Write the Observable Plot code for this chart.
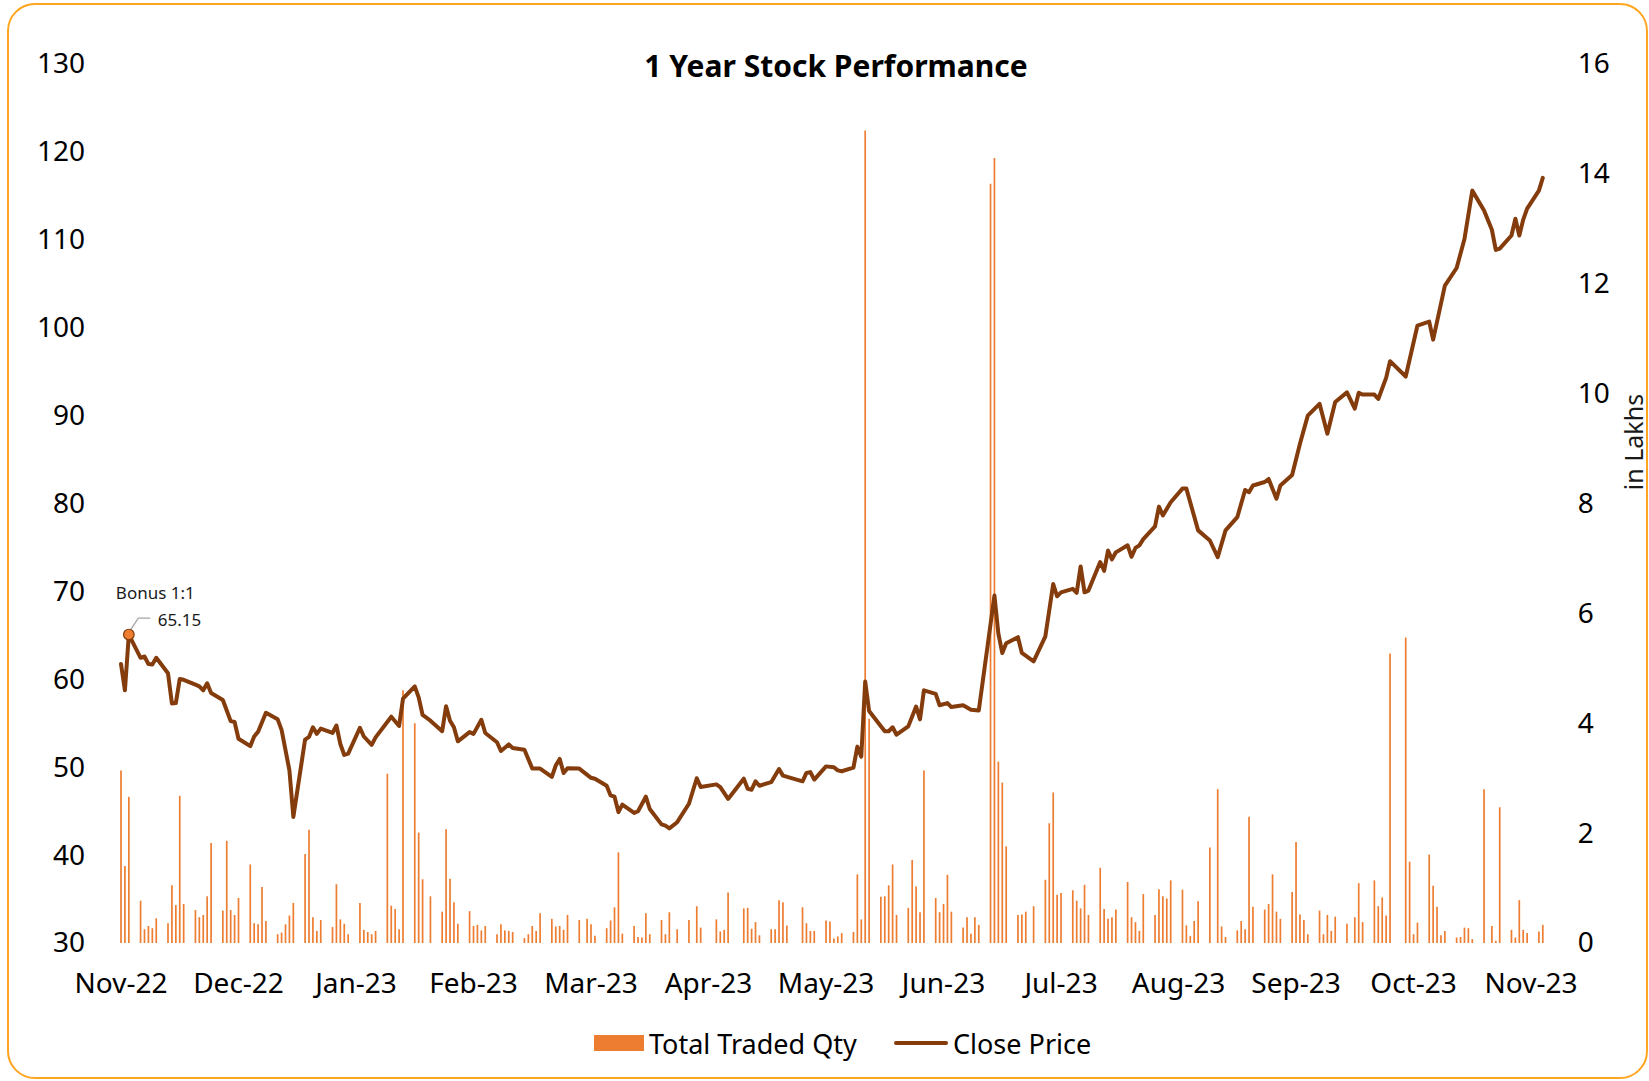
<!DOCTYPE html>
<html>
<head>
<meta charset="utf-8">
<script src="https://cdn.jsdelivr.net/npm/d3@7"></script>
<script src="https://cdn.jsdelivr.net/npm/@observablehq/plot@0.6"></script>
<style>
  html, body { margin: 0; padding: 0; background: #fff; }
  #wrap { position: relative; width: 1649px; height: 1081px; overflow: hidden; font-family: "Noto Sans", "Open Sans", sans-serif; color: #000; }
  #frame { position: absolute; left: 7px; top: 3px; width: 1641px; height: 1076px; border: 2px solid #FFA51F; border-radius: 28px; box-sizing: border-box; pointer-events: none; }
  #chart { position: absolute; left: 0; top: 0; }
  #title { position: absolute; left: 836px; top: 65px; transform: translate(-50%, -50%); font-weight: 700; font-size: 30px; white-space: nowrap; }
  #ylab2 { position: absolute; left: 1633px; top: 442px; transform: translate(-50%, -50%) rotate(-90deg); font-size: 25px; white-space: nowrap; color: #1a1a1a; }
  .leg { position: absolute; font-size: 27px; white-space: nowrap; transform: translateY(-50%); }
  .sw { position: absolute; }
</style>
</head>
<body>
<div id="wrap">
  <div id="frame"></div>
  <div id="chart"></div>
  <div id="title"></div>
  <div id="ylab2"></div>
  <div id="legend"></div>
</div>
<script>
// ---------- data ----------
const titleText = "1 Year Stock Performance";
const rightAxisLabel = "in Lakhs";
const startDate = "2022-11-02";            // day offset 0
const seriesNames = ["Total Traded Qty", "Close Price"];
const tickLabels = ["Nov-22","Dec-22","Jan-23","Feb-23","Mar-23","Apr-23","May-23","Jun-23","Jul-23","Aug-23","Sep-23","Oct-23","Nov-23"];
const tickDay = [0,30,60,90,120,150,180,210,240,270,300,330,360];
const priceTicks = [30,40,50,60,70,80,90,100,110,120,130];
const qtyTicks = [0,2,4,6,8,10,12,14,16];

// Close price (Rs), at trading-day offsets
const priceDay = [0,1,2,5,6,7,8,9,12,13,
14,15,16,19,20,21,22,23,26,27,
28,29,30,33,34,35,37,40,41,43,
44,47,48,49,50,51,54,55,56,57,
58,61,62,64,65,69,71,72,75,76,
77,79,82,83,84,85,86,89,90,92,
93,96,97,99,100,103,105,107,110,111,
112,113,114,117,120,121,124,125,126,127,
128,131,132,134,135,138,139,140,142,145,
147,148,152,153,155,159,160,161,162,163,
166,168,169,174,175,176,177,180,182,183,
184,187,188,189,190,191,195,196,197,198,
201,203,204,205,208,209,211,212,215,217,
219,223,224,225,226,229,230,233,236,238,
239,240,243,244,245,246,247,250,251,252,
253,254,257,258,259,260,261,264,265,266,
268,271,272,275,278,280,282,285,287,288,
289,292,293,295,296,299,301,303,306,308,
310,313,315,316,317,320,321,323,324,328,
331,334,335,338,341,343,345,348,350,351,
352,355,356,357,358,359,362,363];
const closePrice = [61.8,58.8,65.15,62.5,62.65,61.8,61.75,62.5,60.75,57.3,
57.35,60.1,60.0,59.45,59.25,58.8,59.6,58.5,57.7,56.5,
55.3,55.2,53.3,52.45,53.55,54.1,56.25,55.5,54.3,49.7,
44.4,53.2,53.5,54.6,53.85,54.45,53.95,54.8,52.7,51.45,
51.6,54.55,53.55,52.6,53.45,55.8,54.75,57.85,59.25,58.0,
56.0,55.35,54.15,57.0,55.35,54.6,53.0,54.05,53.85,55.45,
53.95,52.9,51.9,52.65,52.25,52.05,49.9,49.9,48.95,50.25,
51.0,49.4,49.95,49.9,48.85,48.75,47.95,46.85,46.7,44.95,
45.8,44.85,45.05,46.7,45.3,43.55,43.4,43.1,43.8,45.9,
48.8,47.8,48.1,47.8,46.45,48.75,47.6,47.5,48.45,47.95,
48.35,49.85,49.1,48.45,49.4,49.5,48.65,50.15,50.05,49.7,
49.6,50.0,52.4,51.25,59.8,56.45,54.15,54.15,54.6,53.75,
54.7,56.95,55.5,58.8,58.4,57.1,57.35,56.9,57.1,56.6,
56.5,69.6,65.25,63.05,64.15,64.85,63.05,62.1,64.95,70.9,
69.5,69.95,70.35,69.9,72.9,69.95,70.15,73.4,72.4,74.7,
73.7,74.5,75.3,74.0,75.0,75.3,76.0,77.45,79.7,78.7,
80.2,81.75,81.75,77.0,75.85,73.95,77.0,78.5,81.6,81.35,
82.1,82.5,82.85,80.6,82.1,83.3,86.85,90.05,91.4,88.0,
91.6,92.7,90.85,92.65,92.45,92.45,91.95,94.35,96.25,94.5,
100.3,100.75,98.7,104.85,106.85,110.15,115.65,113.4,111.2,108.9,
109.05,110.55,112.45,110.55,112.35,113.6,115.65,117.1];

// Total traded quantity (lakhs), at trading-day offsets
const volDay = [0,1,2,5,6,7,8,9,12,13,
14,15,16,19,20,21,22,23,26,27,
28,29,30,33,34,35,36,37,40,41,
42,43,44,47,48,49,50,51,54,55,
56,57,58,61,62,63,64,65,68,69,
70,71,72,75,76,77,79,82,83,84,
85,86,89,90,91,92,93,96,97,98,
99,100,103,104,105,106,107,110,111,112,
113,114,117,119,120,121,124,125,126,127,
128,131,132,133,134,135,138,139,140,142,
145,147,148,152,153,154,155,159,160,161,
162,163,166,167,168,169,170,174,175,176,
177,180,181,182,183,184,187,188,189,190,
191,194,195,196,197,198,201,202,203,204,
205,208,209,210,211,212,215,216,217,218,
219,222,223,224,225,226,229,230,231,233,
236,237,238,239,240,243,244,245,246,247,
250,251,252,253,254,257,258,259,260,261,
264,265,266,267,268,271,272,273,274,275,
278,280,281,282,285,286,287,288,289,292,
293,294,295,296,299,300,301,302,303,306,
307,308,309,310,313,315,316,317,320,321,
322,323,324,328,329,330,331,334,335,336,
337,338,341,342,343,344,345,348,350,351,
352,355,356,357,358,359,362,363];
const volume = [3.14,1.40,2.66,0.77,0.25,0.31,0.27,0.45,0.36,1.05,
0.69,2.68,0.71,0.60,0.47,0.51,0.85,1.82,0.59,1.86,
0.60,0.51,0.82,1.43,0.36,0.34,1.02,0.40,0.16,0.19,
0.34,0.50,0.73,1.62,2.06,0.47,0.22,0.42,0.29,1.07,
0.43,0.35,0.16,0.73,0.24,0.20,0.16,0.22,3.08,0.68,
0.62,0.25,4.60,4.00,2.01,1.16,0.85,0.57,2.07,1.17,
0.74,0.35,0.58,0.31,0.33,0.23,0.31,0.16,0.34,0.23,
0.22,0.20,0.09,0.16,0.31,0.22,0.54,0.44,0.30,0.31,
0.24,0.51,0.42,0.44,0.34,0.13,0.27,0.41,0.65,1.65,
0.17,0.31,0.11,0.10,0.54,0.16,0.42,0.16,0.56,0.25,
0.42,0.67,0.28,0.43,0.21,0.24,0.92,0.63,0.64,0.26,
0.38,0.14,0.25,0.25,0.78,0.74,0.32,0.65,0.36,0.22,
0.22,0.41,0.39,0.08,0.12,0.18,0.20,1.25,0.43,14.79,
4.08,0.84,0.85,1.05,1.43,0.51,0.64,1.51,1.03,0.56,
3.14,0.82,0.56,0.71,1.24,0.57,0.28,0.47,0.17,0.47,
0.33,13.82,14.29,3.30,2.92,1.76,0.51,0.52,0.57,0.67,
1.15,2.18,2.74,0.88,0.91,0.96,0.77,0.63,1.06,0.51,
1.37,0.62,0.44,0.47,0.61,1.11,0.47,0.38,0.22,0.89,
0.51,0.98,0.85,0.81,1.14,0.97,0.32,0.13,0.40,0.76,
1.74,2.80,0.30,0.11,0.23,0.40,0.25,2.30,0.66,0.61,
0.71,1.25,0.57,0.44,0.93,1.84,0.52,0.42,0.16,0.59,
0.16,0.51,0.22,0.48,0.35,0.47,1.09,0.38,1.14,0.67,
0.83,0.50,5.27,5.56,1.48,0.16,0.37,1.61,1.04,0.66,
0.14,0.22,0.10,0.11,0.28,0.27,0.07,2.80,0.31,0.04,
2.47,0.24,0.10,0.78,0.24,0.18,0.21,0.33];

// Annotation
const bonusDay = 2;
const bonusPrice = 65.15;
const bonusLabel = "Bonus 1:1";
const bonusValueLabel = "65.15";

// ---------- build ----------
const COLORS = { bar: "#ED7D31", line: "#843C0C", text: "#000000", leader: "#A6A6A6" };
const FONT = '"Noto Sans", "Open Sans", sans-serif';
const t0 = Date.parse(startDate + "T00:00:00Z");
const dayDate = d => new Date(t0 + d * 864e5);

const priceRows = priceDay.map((d, i) => ({ date: dayDate(d), price: closePrice[i] }));
const volRows = volDay.map((d, i) => ({ date: dayDate(d), qty: volume[i] }));

// secondary axis: 0..16 lakhs mapped onto 30..130 of the price scale
const pMin = priceTicks[0], pMax = priceTicks[priceTicks.length - 1];
const qMax = qtyTicks[qtyTicks.length - 1];
const qtyToPrice = q => pMin + q * (pMax - pMin) / qMax;

const tickDates = tickDay.map(dayDate);
const tickLabelOf = new Map(tickDates.map((d, i) => [+d, tickLabels[i]]));
const qtyLabelOf = new Map(qtyTicks.map(q => [qtyToPrice(q), String(q)]));

const bonusDate = dayDate(bonusDay);

function leaderMark(index, scales) {
  const x = scales.x(bonusDate), y = scales.y(bonusPrice);
  const p = d3.create("svg:path")
    .attr("d", `M${x + 2},${y - 4}L${x + 10},${y - 16}L${x + 22},${y - 16}`)
    .attr("fill", "none").attr("stroke", COLORS.leader).attr("stroke-width", 1.3);
  return p.node();
}

const W = 1649, H = 1010;
const chart = Plot.plot({
  width: W, height: H,
  marginLeft: 120.5, marginRight: 106.7, marginTop: 64, marginBottom: 67,
  style: { fontFamily: FONT, fontSize: "28px", color: COLORS.text, background: "transparent", overflow: "visible" },
  x: { type: "utc", domain: [dayDate(0), dayDate(363)] },
  y: { domain: [pMin, pMax] },
  marks: [
    Plot.ruleX(volRows, { x: "date", y1: pMin, y2: d => qtyToPrice(d.qty), stroke: COLORS.bar, strokeWidth: 1.7 }),
    Plot.line(priceRows, { x: "date", y: "price", stroke: COLORS.line, strokeWidth: 4, strokeLinejoin: "round", strokeLinecap: "round" }),
    leaderMark,
    Plot.dot([{ date: bonusDate, price: bonusPrice }], { x: "date", y: "price", r: 5.3, fill: COLORS.bar, stroke: COLORS.line, strokeWidth: 1.2 }),
    Plot.text([bonusLabel], { x: bonusDate, y: bonusPrice, dx: -13, dy: -41, textAnchor: "start", fontSize: 17, fill: "#1a1a1a" }),
    Plot.text([bonusValueLabel], { x: bonusDate, y: bonusPrice, dx: 29, dy: -14, textAnchor: "start", fontSize: 17, fill: "#1a1a1a" }),
    Plot.axisY({ anchor: "left", ticks: priceTicks, tickSize: 0, tickPadding: 36, label: null, fontSize: 28 }),
    Plot.axisY({ anchor: "right", ticks: qtyTicks.map(qtyToPrice), tickFormat: d => qtyLabelOf.get(d), tickSize: 0, tickPadding: 35, label: null, fontSize: 28 }),
    Plot.axisX({ ticks: tickDates, tickFormat: d => tickLabelOf.get(+d), tickSize: 0, tickPadding: 30, label: null, fontSize: 28 })
  ]
});
document.getElementById("chart").appendChild(chart);
document.getElementById("title").textContent = titleText;
document.getElementById("ylab2").textContent = rightAxisLabel;

// legend (below the plot)
const leg = document.getElementById("legend");
const sq = document.createElement("div");
sq.className = "sw";
Object.assign(sq.style, { left: "594px", top: "1035px", width: "50px", height: "16px", background: COLORS.bar });
leg.appendChild(sq);
const t1 = document.createElement("div");
t1.className = "leg"; t1.textContent = seriesNames[0];
Object.assign(t1.style, { left: "649px", top: "1043px" });
leg.appendChild(t1);
const ln = document.createElement("div");
ln.className = "sw";
Object.assign(ln.style, { left: "894px", top: "1041px", width: "54px", height: "3.5px", background: COLORS.line, borderRadius: "2px" });
leg.appendChild(ln);
const t2 = document.createElement("div");
t2.className = "leg"; t2.textContent = seriesNames[1];
Object.assign(t2.style, { left: "953px", top: "1043px" });
leg.appendChild(t2);
</script>
</body>
</html>
